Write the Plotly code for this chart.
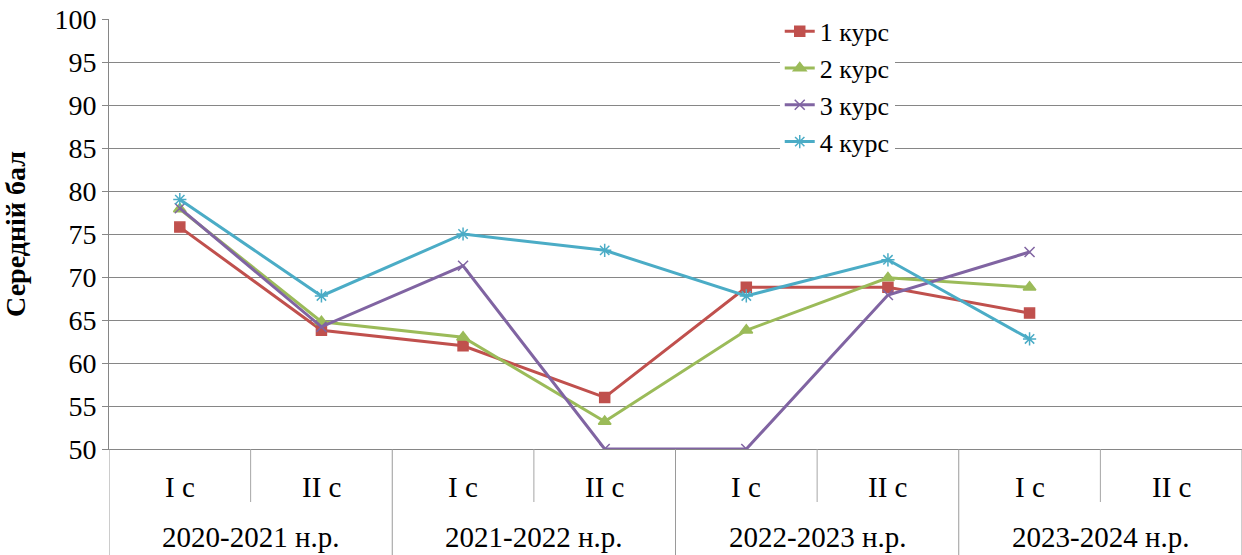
import plotly.graph_objects as go

years = ["2020-2021 н.р.", "2021-2022 н.р.", "2022-2023 н.р.", "2023-2024 н.р."]
semesters = ["I c", "II c"]
periods = [f"{y} {s}" for y in years for s in semesters]

kurs1 = [75.8, 63.8, 62.0, 56.0, 68.8, 68.8, 65.8, None]
kurs2 = [77.9, 64.8, 63.0, 53.2, 63.8, 69.9, 68.8, None]
kurs3 = [78.0, 64.2, 71.3, 50.0, 50.0, 67.9, 72.9, None]
kurs4 = [79.0, 67.8, 75.0, 73.1, 67.8, 72.0, 62.8, None]

names = ["1 курс", "2 курс", "3 курс", "4 курс"]
colors = ["#C0504D", "#9BBB59", "#8064A2", "#4BACC6"]
symbols = ["square", "triangle-up", "x-thin", "asterisk"]
sizes = [10, 11, 10, 11]

FONT = "Liberation Serif, Times New Roman, serif"
PLOT_H = 430.0
FS = 28

fig = go.Figure()
for name, vals, col, sym, sz in zip(names, [kurs1, kurs2, kurs3, kurs4], colors, symbols, sizes):
    fig.add_trace(go.Scatter(
        x=periods, y=vals, name=name, mode="lines+markers",
        line=dict(color=col, width=3),
        marker=dict(symbol=sym, size=sz, color=col, line=dict(color=col, width=1.5)),
    ))

annotations = []
shapes = []
n = len(periods)
for i, p in enumerate(periods):
    sem = semesters[i % len(semesters)]
    annotations.append(dict(x=i, y=-38 / PLOT_H, xref="x", yref="paper", text=sem,
                            showarrow=False, xanchor="center", yanchor="middle",
                            font=dict(family=FONT, size=29, color="black")))
for j, yr in enumerate(years):
    annotations.append(dict(x=2 * j + 0.5, y=-88 / PLOT_H, xref="x", yref="paper", text=yr,
                            showarrow=False, xanchor="center", yanchor="middle",
                            font=dict(family=FONT, size=29, color="black")))
# separators between semesters (short) and years (full height)
for i in range(n + 1):
    b = i - 0.5
    full = (i % 2 == 0)
    shapes.append(dict(type="line", xref="x", yref="paper", x0=b, x1=b,
                       y0=0, y1=(-106 / PLOT_H) if full else (-53 / PLOT_H),
                       line=dict(color="#a6a6a6" if not full else "#9a9a9a", width=1)))

fig.update_layout(
    width=1242, height=555,
    margin=dict(l=109, r=0, t=19, b=106),
    paper_bgcolor="white", plot_bgcolor="white",
    font=dict(family=FONT, size=FS, color="black"),
    showlegend=True,
    legend=dict(x=0.592, y=1.026, xanchor="left", yanchor="top",
                bgcolor="white", borderwidth=0, font=dict(size=26, family=FONT),
                itemwidth=30, tracegroupgap=0),
    annotations=annotations,
    shapes=shapes,
    xaxis=dict(
        type="category", range=[-0.5, n - 0.5],
        showgrid=False, zeroline=False, showticklabels=False,
        showline=True, linecolor="#868686", linewidth=1,
        ticks="", automargin=False,
    ),
    yaxis=dict(
        range=[50, 100], dtick=5, tick0=50,
        showgrid=True, gridcolor="#868686", gridwidth=1,
        showline=True, linecolor="#868686", linewidth=1,
        ticks="outside", ticklen=6, tickcolor="#868686",
        zeroline=False, automargin=False,
        tickfont=dict(family=FONT, size=FS),
        title=dict(text="<b>Середній бал</b>", font=dict(family=FONT, size=FS), standoff=20),
    ),
)

fig.write_html("out.html", config={"displayModeBar": False},
               post_script="document.body.style.margin='0px';")
